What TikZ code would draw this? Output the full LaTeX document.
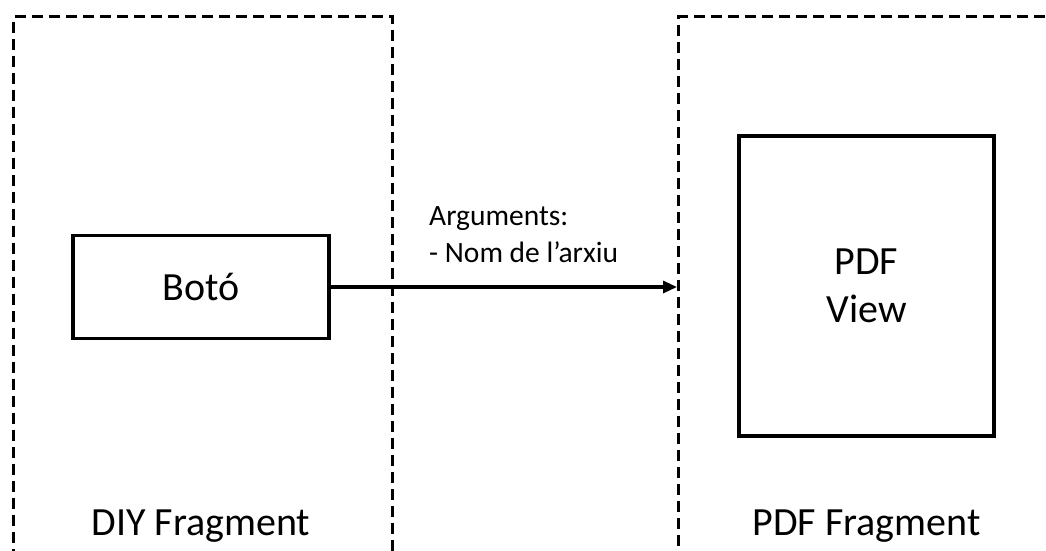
\documentclass[tikz,border=0pt]{standalone}
\usepackage{fontspec}
\setmainfont{Carlito}
\usetikzlibrary{arrows.meta,calc}

\tikzset{
  frame/.style={draw=black, line width=3.2pt, dash pattern=on 11pt off 6pt,
                rectangle, inner sep=0pt},
  widget/.style={draw=black, line width=3.2pt, rectangle, inner sep=0pt,
                 font=\fontsize{40}{48}\selectfont, align=center},
  caption/.style={font=\fontsize{40}{48}\selectfont, anchor=base},
  note/.style={font=\fontsize{29.5}{37}\selectfont, align=left, inner sep=0pt},
  flow/.style={line width=3.2pt, -{Triangle[length=14pt,width=12pt]}}
}

\begin{document}
\begin{tikzpicture}[x=1pt, y=-1pt]
  \useasboundingbox (0,0) rectangle (1046,550);
  \clip (0,0) rectangle (1046,550);

  % fragment containers (they run past the lower and right edges)
  \node[frame, minimum width=379pt, minimum height=580pt, anchor=north west]
    (diyfrag) at (12,15) {};
  \node[frame, minimum width=420pt, minimum height=580pt, anchor=north west]
    (pdffrag) at (677,15) {};

  % widgets inside the fragments
  \node[widget, minimum width=256pt, minimum height=103pt] (boto) at (201,287) {Botó};
  \node[widget, minimum width=255pt, minimum height=300pt] (pdfview) at (866.5,286) {PDF\\View};

  % fragment names
  \node[caption] (diyname) at (201,535) {DIY Fragment};
  \node[caption] (pdfname) at (866.5,535) {PDF Fragment};

  % button click opens the PDF fragment, passing the file name
  \draw[flow] (boto.east) -- (boto.east -| pdffrag.west);
  % base anchor of a two-line node sits on its last line
  \node[note, anchor=base west] (args) at (429,262) {Arguments:\\- Nom de l’arxiu};
\end{tikzpicture}
\end{document}
